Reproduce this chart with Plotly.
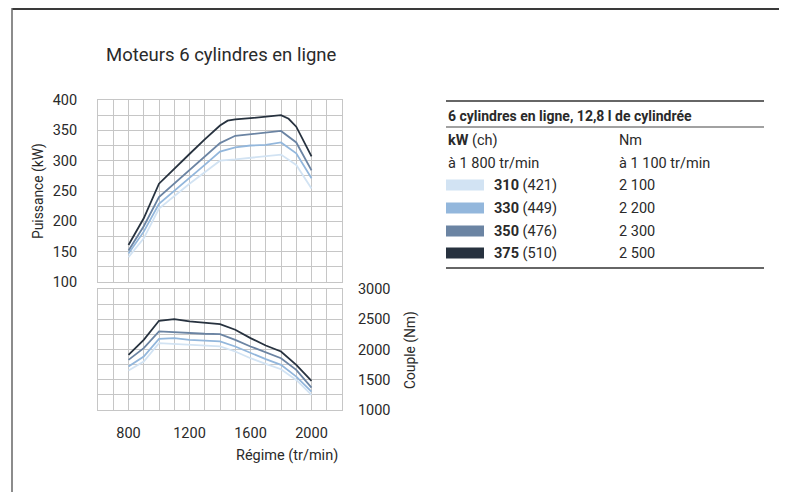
import plotly.graph_objects as go

W, H = 787, 492
OFF = 8  # default page margin around the figure

# ---------------- data ----------------
rpm = [800, 900, 1000, 1100, 1200, 1300, 1400, 1500, 1600, 1700, 1800, 1900, 2000]
rpm_375 = [800, 900, 1000, 1100, 1200, 1300, 1400, 1450, 1500, 1600, 1700, 1800, 1850, 1900, 2000]

power_310 = [141, 172, 221, 242, 262, 281, 300, 302, 305, 307, 310, 293, 254]
power_330 = [147, 183, 229, 250, 272, 293, 315, 322, 325, 326, 330, 312, 271]
power_350 = [152, 192, 240, 262, 284, 306, 329, 341, 344, 346, 349, 330, 284]
power_375 = [161, 205, 262, 287, 311, 335, 358, 366, 368, 370, 372, 375, 369, 356, 307]

torque_310 = [1652, 1801, 2105, 2094, 2077, 2066, 2050, 1967, 1856, 1762, 1674, 1497, 1249]
torque_330 = [1718, 1884, 2177, 2188, 2160, 2149, 2133, 2050, 1939, 1840, 1746, 1552, 1304]
torque_350 = [1829, 2022, 2298, 2282, 2271, 2260, 2254, 2160, 2050, 1950, 1856, 1663, 1370]
torque_375 = [1912, 2160, 2475, 2503, 2464, 2436, 2420, 2326, 2188, 2066, 1967, 1746, 1481]

kw_values = ["310", "330", "350", "375"]
ch_values = ["421", "449", "476", "510"]
nm_values = ["2 100", "2 200", "2 300", "2 500"]

colors = ["#d2e3f3", "#93b7dc", "#6b84a3", "#27323f"]

title_text = "Moteurs 6 cylindres en ligne"
table_title = "6 cylindres en ligne, 12,8 l de cylindrée"

# ---------------- helpers (screen pixel -> paper) ----------------
def px(x):
    return (x - OFF) / W

def py(y):
    return 1 - (y - OFF) / H

FONT = "Roboto, Liberation Sans, sans-serif"
TXT = "#2a2a2a"
GRID = "#c6c6c6"
TICK = 14.5

fig = go.Figure()

power_series = [(rpm, power_310), (rpm, power_330), (rpm, power_350), (rpm_375, power_375)]
torque_series = [torque_310, torque_330, torque_350, torque_375]

for i, (xs, ys) in enumerate(power_series):
    fig.add_trace(go.Scatter(x=xs, y=ys, mode="lines", line=dict(color=colors[i], width=1.8),
                             xaxis="x", yaxis="y", showlegend=False, hoverinfo="skip"))
for i, ys in enumerate(torque_series):
    fig.add_trace(go.Scatter(x=rpm, y=ys, mode="lines", line=dict(color=colors[i], width=1.8),
                             xaxis="x2", yaxis="y2", showlegend=False, hoverinfo="skip"))

x_dom = [px(98), px(342)]
axis_common = dict(showgrid=True, gridcolor=GRID, gridwidth=1, zeroline=False,
                   showline=True, linecolor=GRID, linewidth=1, mirror=True, automargin=False,
                   tickfont=dict(family=FONT, size=TICK, color=TXT))

fig.update_layout(
    width=W, height=H,
    margin=dict(l=0, r=0, t=0, b=0, autoexpand=False),
    paper_bgcolor="white", plot_bgcolor="white",
    font=dict(family=FONT, color=TXT),
    hovermode=False,
    xaxis=dict(domain=x_dom, range=[600, 2200], anchor="y", showticklabels=False,
               tick0=0, dtick=400, minor=dict(dtick=100, showgrid=True, gridcolor=GRID, gridwidth=1),
               **axis_common),
    yaxis=dict(domain=[py(282), py(100)], range=[100, 400], anchor="x",
               dtick=50, minor=dict(dtick=25, showgrid=True, gridcolor=GRID, gridwidth=1),
               ticklabelstandoff=17, **axis_common),
    xaxis2=dict(domain=x_dom, range=[600, 2200], anchor="y2",
                tick0=0, dtick=400, minor=dict(dtick=100, showgrid=True, gridcolor=GRID, gridwidth=1),
                ticklabelstandoff=10, **axis_common),
    yaxis2=dict(domain=[py(410), py(289)], range=[1000, 3000], anchor="x2", side="right",
                dtick=500, minor=dict(dtick=250, showgrid=True, gridcolor=GRID, gridwidth=1),
                ticklabelstandoff=12, **axis_common),
)

def note(x, y, text, size=14.5, angle=0, anchor="left"):
    return dict(x=px(x), y=py(y), xref="paper", yref="paper", text=text, showarrow=False,
                textangle=angle, xanchor=anchor, yanchor="middle",
                font=dict(family=FONT, size=size, color=TXT))

annotations = [
    note(104, 55, title_text, size=18.5),
    note(38, 191, "Puissance (kW)", size=13.8, angle=-90, anchor="center"),
    note(410, 350, "Couple (Nm)", size=13.8, angle=-90, anchor="center"),
    note(287, 455, "Régime (tr/min)", anchor="center"),
    note(446, 116, "<b>" + table_title + "</b>", size=14),
    note(446, 141, "<b>kW</b> (ch)"),
    note(617, 141, "Nm"),
    note(446, 163, "à 1 800 tr/min"),
    note(617, 163, "à 1 100 tr/min"),
]

shapes = [
    # outer frame (top and left), as close to the top edge as the page allows
    dict(type="rect", xref="paper", yref="paper", x0=px(12), x1=1, y0=py(10), y1=1,
         fillcolor="#3a3a3a", line=dict(width=0), layer="above"),
    dict(type="line", xref="paper", yref="paper", x0=px(12), x1=px(12), y0=1, y1=0,
         line=dict(color="#666666", width=1.5)),
    # table rules
    dict(type="line", xref="paper", yref="paper", x0=px(446), x1=px(764), y0=py(101), y1=py(101),
         line=dict(color="#333333", width=1.6)),
    dict(type="line", xref="paper", yref="paper", x0=px(446), x1=px(764), y0=py(127), y1=py(127),
         line=dict(color="#444444", width=1.2)),
    dict(type="line", xref="paper", yref="paper", x0=px(446), x1=px(764), y0=py(268), y1=py(268),
         line=dict(color="#333333", width=1.6)),
]

row_y = [185, 208, 231, 253]
for i in range(4):
    yc = row_y[i]
    shapes.append(dict(type="rect", xref="paper", yref="paper", x0=px(446), x1=px(484),
                       y0=py(yc + 5.5), y1=py(yc - 5.5), fillcolor=colors[i], line=dict(width=0)))
    annotations.append(note(492, yc, "<b>" + kw_values[i] + "</b> (" + ch_values[i] + ")"))
    annotations.append(note(617, yc, nm_values[i]))

fig.update_layout(annotations=annotations, shapes=shapes)

fig.write_html("out.html", config={"displayModeBar": False, "staticPlot": True})
